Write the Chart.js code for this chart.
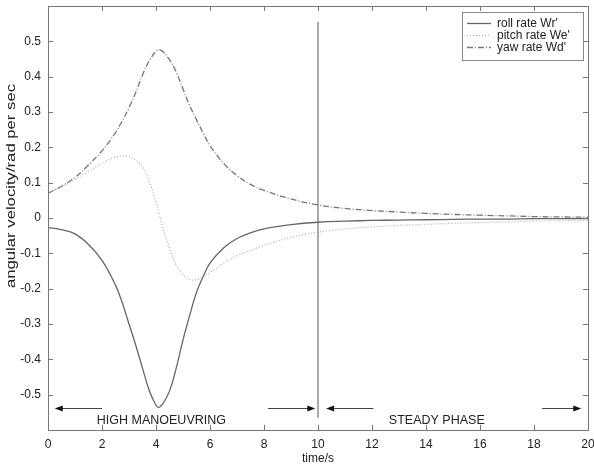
<!DOCTYPE html>
<html>
<head>
<meta charset="utf-8">
<title>angular velocity</title>
<script src="https://cdn.jsdelivr.net/npm/chart.js@4.4.1/dist/chart.umd.min.js"></script>
<style>
  html, body { margin: 0; padding: 0; background: #fff; }
</style>
</head>
<body>
<canvas id="chart" width="594" height="468"></canvas>
<script>
// values
const timeS = [0, 0.5, 1, 1.5, 2, 2.5, 2.75, 3, 3.25, 3.5, 3.75, 4, 4.1, 4.25, 4.5, 4.75, 5, 5.25, 5.5, 5.75, 6, 6.5, 7, 7.5, 8, 9, 10, 11, 12, 13, 14, 15, 16, 17, 18, 19, 20];
const rollRate = [-0.027, -0.033, -0.045, -0.075, -0.12, -0.19, -0.24, -0.3, -0.36, -0.425, -0.488, -0.53, -0.536, -0.526, -0.49, -0.425, -0.345, -0.275, -0.21, -0.165, -0.128, -0.085, -0.058, -0.042, -0.031, -0.019, -0.012, -0.009, -0.007, -0.006, -0.005, -0.004, -0.003, -0.003, -0.002, -0.002, -0.002];
const pitchRate = [0.072, 0.088, 0.11, 0.132, 0.155, 0.172, 0.176, 0.174, 0.163, 0.145, 0.105, 0.045, 0.017, -0.025, -0.085, -0.133, -0.16, -0.174, -0.175, -0.166, -0.155, -0.128, -0.107, -0.092, -0.078, -0.055, -0.04, -0.031, -0.025, -0.021, -0.018, -0.015, -0.013, -0.011, -0.009, -0.008, -0.007];
const yawRate = [0.07, 0.09, 0.115, 0.15, 0.19, 0.242, 0.275, 0.312, 0.355, 0.405, 0.445, 0.472, 0.476, 0.471, 0.448, 0.413, 0.365, 0.318, 0.278, 0.24, 0.205, 0.155, 0.12, 0.095, 0.078, 0.054, 0.037, 0.027, 0.021, 0.017, 0.013, 0.01, 0.008, 0.006, 0.004, 0.003, 0.002];
const seriesNames = ["roll rate Wr'", "pitch rate We'", "yaw rate Wd'"];

const xTicks = [0, 2, 4, 6, 8, 10, 12, 14, 16, 18, 20];
const yTicks = [-0.5, -0.4, -0.3, -0.2, -0.1, 0, 0.1, 0.2, 0.3, 0.4, 0.5];

// phase marker and annotations
const phaseLineT = [10, 10];
const phaseLineV = [-0.565, 0.555];
const arrowFrom = [2, 8.15, 12.05, 18.3];
const arrowTo = [0.25, 9.9, 10.3, 19.75];
const arrowLevel = -0.538;
const phaseNames = ['HIGH MANOEUVRING', 'STEADY PHASE'];
const phaseCentres = [4.2, 14.4];
const phaseLabelLevel = -0.574;

const FONT = '"Liberation Sans", Arial, sans-serif';
const pts = vals => timeS.map((t, i) => ({ x: t, y: vals[i] }));

// box round the plot with inward ticks on all four sides, plus axis titles
const frame = {
  id: 'frame',
  afterDraw(chart) {
    const { ctx, chartArea: a, scales: { x, y } } = chart;
    ctx.save();
    ctx.strokeStyle = '#777';
    ctx.lineWidth = 1;
    ctx.strokeRect(a.left + 0.5, a.top + 0.5, a.right - a.left, a.bottom - a.top);
    ctx.beginPath();
    xTicks.forEach(v => {
      const px = Math.round(x.getPixelForValue(v)) + 0.5;
      ctx.moveTo(px, a.bottom); ctx.lineTo(px, a.bottom - 5);
      ctx.moveTo(px, a.top); ctx.lineTo(px, a.top + 5);
    });
    yTicks.forEach(v => {
      const py = Math.round(y.getPixelForValue(v)) + 0.5;
      ctx.moveTo(a.left, py); ctx.lineTo(a.left + 5, py);
      ctx.moveTo(a.right, py); ctx.lineTo(a.right - 5, py);
    });
    ctx.stroke();

    ctx.fillStyle = '#222';
    ctx.font = '12px ' + FONT;
    ctx.textAlign = 'center';
    ctx.textBaseline = 'middle';
    ctx.fillText('time/s', (a.left + a.right) / 2, 459);

    // y title is stretched along its length in the original
    const yTitle = 'angular velocity/rad per sec';
    const w = ctx.measureText(yTitle).width;
    ctx.translate(12, 186);
    ctx.rotate(-Math.PI / 2);
    ctx.scale(204 / w, 1);
    ctx.fillText(yTitle, 0, 0);
    ctx.restore();
  }
};

// phase arrows and labels
const phases = {
  id: 'phases',
  afterDatasetsDraw(chart) {
    const { ctx, scales: { x, y } } = chart;
    ctx.save();
    const py = Math.round(y.getPixelForValue(arrowLevel)) + 0.5;
    arrowFrom.forEach((f, i) => {
      const x0 = x.getPixelForValue(f);
      const x1 = x.getPixelForValue(arrowTo[i]);
      const dir = x1 > x0 ? 1 : -1;
      ctx.strokeStyle = '#444';
      ctx.lineWidth = 1;
      ctx.beginPath();
      ctx.moveTo(x0, py); ctx.lineTo(x1 - dir * 6, py);
      ctx.stroke();
      ctx.fillStyle = '#111';
      ctx.beginPath();
      ctx.moveTo(x1, py);
      ctx.lineTo(x1 - dir * 8, py - 3);
      ctx.lineTo(x1 - dir * 8, py + 3);
      ctx.closePath();
      ctx.fill();
    });
    ctx.fillStyle = '#222';
    ctx.font = '12.5px ' + FONT;
    ctx.textAlign = 'center';
    ctx.textBaseline = 'middle';
    phaseNames.forEach((n, i) => {
      ctx.fillText(n, x.getPixelForValue(phaseCentres[i]), y.getPixelForValue(phaseLabelLevel));
    });
    ctx.restore();
  }
};

// legend box in the top right corner
const legendBox = {
  id: 'legendBox',
  afterDraw(chart) {
    const { ctx } = chart;
    ctx.save();
    ctx.fillStyle = '#fff';
    ctx.fillRect(462, 12, 121, 48);
    ctx.strokeStyle = '#888';
    ctx.lineWidth = 1;
    ctx.strokeRect(462.5, 12.5, 121, 48);
    ctx.font = '12px ' + FONT;
    ctx.textBaseline = 'middle';
    ctx.textAlign = 'left';
    seriesNames.forEach((name, i) => {
      const ds = chart.data.datasets[i];
      const ry = 23.5 + i * 12;
      ctx.strokeStyle = ds.borderColor;
      ctx.lineWidth = ds.borderWidth;
      ctx.setLineDash(ds.borderDash || []);
      ctx.beginPath();
      ctx.moveTo(467, ry); ctx.lineTo(491, ry);
      ctx.stroke();
      ctx.setLineDash([]);
      ctx.fillStyle = '#222';
      ctx.fillText(name, 497, ry);
    });
    ctx.restore();
  }
};

new Chart(document.getElementById('chart'), {
  type: 'line',
  data: {
    datasets: [
      { label: seriesNames[0], data: pts(rollRate), borderColor: '#666', borderWidth: 1.3 },
      { label: seriesNames[1], data: pts(pitchRate), borderColor: '#aaa', borderWidth: 1.2, borderDash: [1, 2] },
      { label: seriesNames[2], data: pts(yawRate), borderColor: '#777', borderWidth: 1.3, borderDash: [6, 2, 1, 2] },
      { label: 'phase', data: phaseLineT.map((t, i) => ({ x: t, y: phaseLineV[i] })), borderColor: '#aaa', borderWidth: 2, tension: 0 }
    ]
  },
  options: {
    responsive: false,
    animation: false,
    devicePixelRatio: 1,
    layout: { padding: { top: 6, right: 6, left: 0, bottom: 0 } },
    elements: {
      point: { radius: 0 },
      line: { tension: 0.4, fill: false }
    },
    plugins: { legend: { display: false }, tooltip: { enabled: false } },
    scales: {
      x: {
        type: 'linear', min: 0, max: 20,
        grid: { display: false, drawTicks: false },
        border: { display: false },
        ticks: { color: '#222', font: { size: 12, family: FONT }, padding: 7, maxRotation: 0 },
        afterBuildTicks: s => { s.ticks = xTicks.map(v => ({ value: v })); },
        afterFit: s => { s.height = 38; s.paddingLeft = 0; s.paddingRight = 0; }
      },
      y: {
        type: 'linear', min: -0.6, max: 0.6,
        grid: { display: false, drawTicks: false },
        border: { display: false },
        ticks: {
          color: '#222', font: { size: 12, family: FONT }, padding: 7,
          callback: v => (Math.abs(v) < 1e-9 ? '0' : v.toFixed(1))
        },
        afterBuildTicks: s => { s.ticks = yTicks.map(v => ({ value: v })); },
        afterFit: s => { s.width = 48; s.paddingTop = 0; s.paddingBottom = 0; }
      }
    }
  },
  plugins: [frame, phases, legendBox]
});
</script>
</body>
</html>
